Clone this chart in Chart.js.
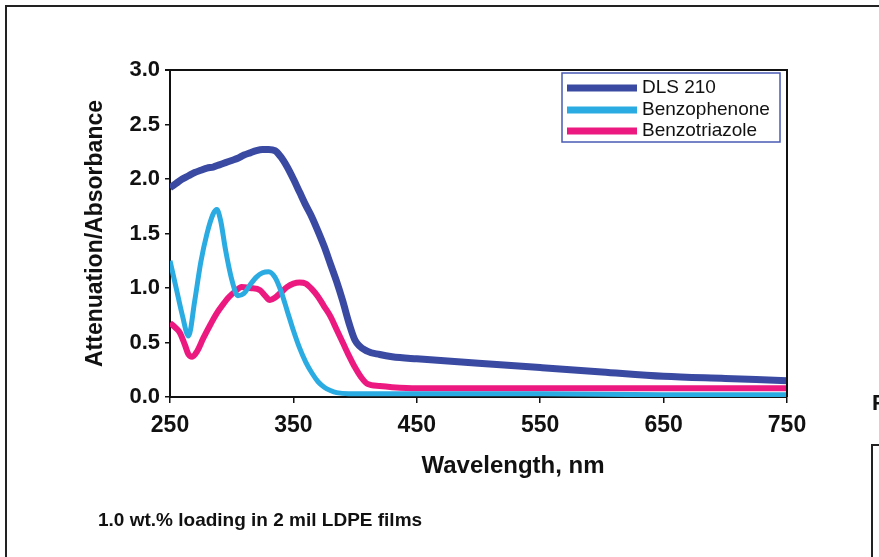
<!DOCTYPE html>
<html>
<head>
<meta charset="utf-8">
<script src="https://cdn.jsdelivr.net/npm/chart.js@4.4.1/dist/chart.umd.min.js"></script>
<style>
  body { margin: 0; background: #fff; }
  canvas { display: block; }
</style>
</head>
<body>
<canvas id="uvChart" width="879" height="557"></canvas>
<script>
// Spectra (wavelength in nm, attenuation/absorbance)
const seriesNames = ['DLS 210', 'Benzophenone', 'Benzotriazole'];
const seriesColors = ['#3a4aa2', '#2aabe2', '#ec1a80'];

const dlsWave = [250, 255, 260, 265, 270, 275, 280, 285, 290, 295, 300, 305, 310, 315, 320, 325, 330, 335, 340, 345, 350, 355, 360, 365, 370, 375, 380, 385, 390, 395, 400, 410, 420, 430, 450, 500, 550, 600, 650, 700, 750];
const dlsAbs = [1.92, 1.96, 2.00, 2.03, 2.06, 2.08, 2.10, 2.11, 2.13, 2.15, 2.17, 2.19, 2.22, 2.24, 2.26, 2.27, 2.27, 2.26, 2.20, 2.11, 2.00, 1.88, 1.76, 1.65, 1.52, 1.38, 1.22, 1.06, 0.88, 0.68, 0.52, 0.42, 0.39, 0.37, 0.35, 0.31, 0.27, 0.23, 0.19, 0.17, 0.15];

const bpWave = [250, 255, 260, 265, 270, 275, 280, 285, 288, 291, 295, 300, 305, 310, 315, 320, 325, 330, 335, 340, 345, 350, 355, 360, 365, 370, 375, 380, 385, 395, 450, 550, 650, 750];
const bpAbs = [1.25, 1.00, 0.75, 0.56, 0.88, 1.24, 1.50, 1.68, 1.72, 1.62, 1.35, 1.08, 0.93, 0.95, 1.03, 1.10, 1.14, 1.15, 1.10, 0.97, 0.79, 0.61, 0.45, 0.32, 0.22, 0.14, 0.09, 0.06, 0.04, 0.03, 0.03, 0.03, 0.02, 0.02];

const btWave = [250, 255, 258, 262, 265, 268, 272, 277, 283, 288, 293, 298, 303, 308, 315, 323, 327, 331, 335, 340, 345, 350, 355, 360, 365, 370, 375, 380, 385, 390, 395, 400, 405, 410, 420, 430, 450, 550, 650, 750];
const btAbs = [0.68, 0.63, 0.59, 0.48, 0.39, 0.37, 0.42, 0.54, 0.67, 0.77, 0.85, 0.92, 0.97, 1.01, 1.00, 0.98, 0.93, 0.89, 0.91, 0.96, 1.01, 1.04, 1.05, 1.04, 0.99, 0.92, 0.83, 0.74, 0.62, 0.50, 0.38, 0.27, 0.18, 0.12, 0.10, 0.09, 0.08, 0.08, 0.08, 0.08];

const xTicks = [250, 350, 450, 550, 650, 750];
const yTicks = [0, 0.5, 1.0, 1.5, 2.0, 2.5, 3.0];
const lineWidths = [7, 5, 6];

const fontFamily = '"Liberation Sans", Arial, sans-serif';

function toPoints(xs, ys) {
    return xs.map((x, i) => ({ x: x, y: ys[i] }));
}

// frame, legend box, captions and the bits of the neighbouring panel
const decorations = {
    id: 'decorations',
    beforeDraw(chart) {
        const ctx = chart.ctx;
        ctx.save();
        ctx.fillStyle = '#fff';
        ctx.fillRect(0, 0, chart.width, chart.height);
        ctx.restore();
    },
    afterDraw(chart) {
        const ctx = chart.ctx;
        const area = chart.chartArea;
        ctx.save();

        // outer figure border
        ctx.strokeStyle = '#222';
        ctx.lineWidth = 2;
        ctx.beginPath();
        ctx.moveTo(6, chart.height);
        ctx.lineTo(6, 6);
        ctx.lineTo(chart.width, 6);
        ctx.stroke();

        // top and right of plot frame
        ctx.strokeStyle = '#111';
        ctx.lineWidth = 2;
        ctx.beginPath();
        ctx.moveTo(area.left - 5, area.top);
        ctx.lineTo(area.right, area.top);
        ctx.lineTo(area.right, area.bottom);
        ctx.stroke();

        // legend
        const lx = 562, ly = 73, lw = 218, lh = 69;
        ctx.fillStyle = '#fff';
        ctx.fillRect(lx, ly, lw, lh);
        ctx.strokeStyle = '#4a5ab4';
        ctx.lineWidth = 1.5;
        ctx.strokeRect(lx, ly, lw, lh);
        const rowY = [88, 110, 131];
        ctx.font = '19px ' + fontFamily;
        ctx.textBaseline = 'middle';
        ctx.textAlign = 'left';
        chart.data.datasets.forEach((ds, i) => {
            ctx.strokeStyle = ds.borderColor;
            ctx.lineWidth = 7;
            ctx.beginPath();
            ctx.moveTo(567, rowY[i]);
            ctx.lineTo(637, rowY[i]);
            ctx.stroke();
            ctx.fillStyle = '#111';
            ctx.fillText(ds.label, 642, rowY[i]);
        });

        // x axis title
        ctx.fillStyle = '#111';
        ctx.font = 'bold 24px ' + fontFamily;
        ctx.textAlign = 'center';
        ctx.fillText('Wavelength, nm', 513, 466);

        // caption
        ctx.font = 'bold 19px ' + fontFamily;
        ctx.textAlign = 'left';
        ctx.fillText('1.0 wt.% loading in 2 mil LDPE films', 98, 521);

        // edge of the next panel
        ctx.font = 'bold 22px ' + fontFamily;
        ctx.fillText('F', 872, 404);
        ctx.strokeStyle = '#222';
        ctx.lineWidth = 2;
        ctx.beginPath();
        ctx.moveTo(872, chart.height);
        ctx.lineTo(872, 445);
        ctx.lineTo(chart.width, 445);
        ctx.stroke();

        ctx.restore();
    }
};

const datasets = [
    [dlsWave, dlsAbs],
    [bpWave, bpAbs],
    [btWave, btAbs]
].map((pair, i) => ({
    label: seriesNames[i],
    data: toPoints(pair[0], pair[1]),
    borderColor: seriesColors[i],
    backgroundColor: seriesColors[i],
    borderWidth: lineWidths[i],
    pointRadius: 0,
    cubicInterpolationMode: 'monotone',
    fill: false
}));

const chart = new Chart(document.getElementById('uvChart').getContext('2d'), {
    type: 'line',
    data: { datasets: datasets },
    options: {
        responsive: false,
        devicePixelRatio: 1,
        animation: false,
        layout: { padding: { left: 82, top: 70, right: 92, bottom: 0 } },
        plugins: {
            legend: { display: false },
            title: { display: false },
            tooltip: { enabled: false }
        },
        scales: {
            x: {
                type: 'linear',
                min: 250,
                max: 750,
                afterBuildTicks: (scale) => { scale.ticks = xTicks.map(v => ({ value: v })); },
                afterFit: (scale) => { scale.height = 160; },
                grid: { drawOnChartArea: false, drawTicks: true, tickLength: 6, color: '#111', lineWidth: 1.5 },
                border: { display: true, color: '#111', width: 2 },
                ticks: {
                    color: '#111',
                    padding: 9,
                    maxRotation: 0,
                    font: { family: fontFamily, size: 23, weight: 'bold' }
                }
            },
            y: {
                min: 0,
                max: 3,
                afterBuildTicks: (scale) => { scale.ticks = yTicks.map(v => ({ value: v })); },
                afterFit: (scale) => { scale.width = 88; },
                grid: { drawOnChartArea: false, drawTicks: true, tickLength: 5, color: '#111', lineWidth: 1.5 },
                border: { display: true, color: '#111', width: 2 },
                ticks: {
                    color: '#111',
                    padding: 5,
                    font: { family: fontFamily, size: 22, weight: 'bold' },
                    callback: (v) => Number(v).toFixed(1)
                },
                title: {
                    display: true,
                    text: 'Attenuation/Absorbance',
                    color: '#111',
                    padding: { top: 0, bottom: 0 },
                    font: { family: fontFamily, size: 23, weight: 'bold' }
                }
            }
        }
    },
    plugins: [decorations]
});
</script>
</body>
</html>
